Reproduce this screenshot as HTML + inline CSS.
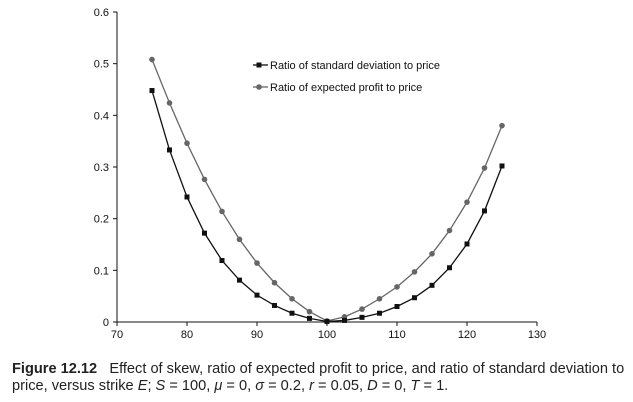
<!DOCTYPE html>
<html><head><meta charset="utf-8"><style>
body{margin:0;background:#fff;width:633px;height:402px;overflow:hidden;font-family:"Liberation Sans",sans-serif}
svg text{font-family:"Liberation Sans",sans-serif}
.cap{position:absolute;left:12px;top:361px;width:621px;font-size:14.6px;line-height:17px;color:#222;white-space:nowrap}
</style></head><body>
<svg id="chart" width="633" height="360" style="position:absolute;left:0;top:0">
<g id="axes"></g><g id="series"></g>
<g>
<line x1="253" y1="65" x2="268" y2="65" stroke="#111" stroke-width="1.3"/><rect x="256.5" y="62.5" width="5" height="5" fill="#111"/>
<text x="270" y="69" font-size="11" fill="#111">Ratio of standard deviation to price</text>
<line x1="253" y1="87" x2="268" y2="87" stroke="#666" stroke-width="1.3"/><circle cx="259" cy="87" r="2.8" fill="#666"/>
<text x="270" y="91" font-size="11" fill="#111">Ratio of expected profit to price</text>
</g>
</svg>
<div class="cap"><b>Figure 12.12</b>&nbsp;&nbsp; Effect of skew, ratio of expected profit to price, and ratio of standard deviation to<br>price, versus strike <i>E</i>; <i>S</i> = 100, <i>μ</i> = 0, <i>σ</i> = 0.2, <i>r</i> = 0.05, <i>D</i> = 0, <i>T</i> = 1.</div>
<script>
const strikes=[75,77.5,80,82.5,85,87.5,90,92.5,95,97.5,100,102.5,105,107.5,110,112.5,115,117.5,120,122.5,125];
const stdRatio=[0.448,0.333,0.242,0.172,0.119,0.081,0.052,0.032,0.017,0.007,0.001,0.003,0.009,0.017,0.030,0.047,0.071,0.105,0.151,0.215,0.302];
const profitRatio=[0.508,0.424,0.346,0.276,0.214,0.160,0.114,0.076,0.045,0.020,0.002,0.010,0.025,0.045,0.068,0.097,0.132,0.177,0.232,0.298,0.380];
const xTicks=[70,80,90,100,110,120,130];
const yTicks=[0,0.1,0.2,0.3,0.4,0.5,0.6];
const NS="http://www.w3.org/2000/svg";
const X=v=>117+(v-70)*7, Y=v=>322-v*(310/0.6);
function mk(t,a,p){const e=document.createElementNS(NS,t);for(const k in a)e.setAttribute(k,a[k]);p.appendChild(e);return e;}
const ax=document.getElementById('axes'), se=document.getElementById('series');
let l=mk('line',{x1:X(70),y1:Y(0),x2:X(130),y2:Y(0),stroke:'#111'},ax);


l=mk('line',{x1:X(70),y1:Y(0),x2:X(70),y2:Y(0.6),stroke:'#111'},ax);


xTicks.forEach(v=>{mk('line',{x1:X(v),y1:Y(0),x2:X(v),y2:Y(0)+4,stroke:'#111'},ax);
const t=mk('text',{x:X(v),y:Y(0)+16,'font-size':11,'text-anchor':'middle',fill:'#111'},ax);t.textContent=v;

});
yTicks.forEach(v=>{mk('line',{x1:X(70)-4,y1:Y(v),x2:X(70),y2:Y(v),stroke:'#111'},ax);
const t=mk('text',{x:X(70)-8,y:Y(v)+4,'font-size':11,'text-anchor':'end',fill:'#111'},ax);t.textContent=v===0?'0':v.toFixed(1);

});
function series(vals,col,sq,name){
const p=mk('polyline',{points:strikes.map((s,i)=>X(s)+','+Y(vals[i])).join(' '),fill:'none',stroke:col,'stroke-width':1.3},se);


strikes.forEach((s,i)=>{let m;
if(sq)m=mk('rect',{x:X(s)-2.5,y:Y(vals[i])-2.5,width:5,height:5,fill:col},se);
else m=mk('circle',{cx:X(s),cy:Y(vals[i]),r:2.8,fill:col},se);

});}
series(profitRatio,'#666',false,'profit-ratio');
series(stdRatio,'#111',true,'std-ratio');
</script>
</body></html>
